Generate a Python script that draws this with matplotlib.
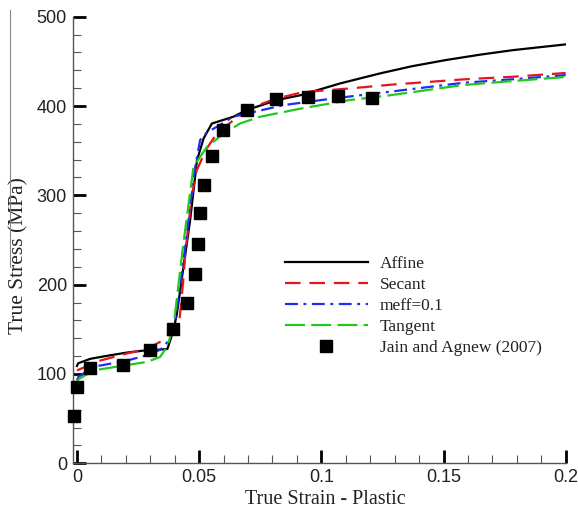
import numpy as np
import matplotlib
matplotlib.use('Agg')
import matplotlib.pyplot as plt
from matplotlib.lines import Line2D
from matplotlib.ticker import MultipleLocator

# model curves (true strain, true stress MPa)
affine_x = [0.0, 0.0005, 0.0055, 0.0137, 0.0205, 0.0286, 0.034, 0.037, 0.0395, 0.0409,
            0.0436, 0.0463, 0.0491, 0.0518, 0.0552, 0.064, 0.0695, 0.0818, 0.0913,
            0.1077, 0.124, 0.137, 0.151, 0.165, 0.1785, 0.2]
affine_y = [109, 112, 117, 121, 124, 126.6, 127.3, 128, 149, 167.6,
            220, 272, 339, 363.6, 380.4, 388, 395.5, 406.7, 412,
            425.3, 436.5, 444.5, 451.5, 457.5, 462.6, 469]

secant_x = [0.0, 0.0095, 0.0205, 0.0286, 0.0354, 0.038, 0.0415, 0.0425, 0.0435, 0.0445,
            0.047, 0.049, 0.053, 0.0574, 0.064, 0.072, 0.0818, 0.0926, 0.1117, 0.129,
            0.158, 0.1785, 0.1975, 0.2]
secant_y = [104, 115, 123, 128, 138, 146, 150, 175, 205, 240,
            300, 328, 352, 370, 384, 399, 408.5, 415.6, 419.7, 424,
            429.8, 432.8, 436.5, 437]

meff_x = [0.0, 0.0006, 0.0067, 0.0205, 0.0313, 0.0354, 0.0375, 0.0402, 0.0422, 0.0443,
          0.0463, 0.0484, 0.0504, 0.053, 0.058, 0.064, 0.0845, 0.105, 0.128, 0.158,
          0.1785, 0.2]
meff_y = [93, 96.7, 108, 115, 123, 129.6, 137.8, 160, 197.5, 242,
          287, 332, 362, 370, 378, 388, 401, 408.5, 416, 426,
          430, 434.6]

tangent_x = [0.0, 0.0006, 0.0067, 0.0205, 0.0286, 0.034, 0.0368, 0.0395, 0.0435, 0.0477,
             0.0531, 0.0599, 0.0668, 0.075, 0.0913, 0.1117, 0.128, 0.158, 0.1785, 0.2]
tangent_y = [91, 94, 104, 110, 113.5, 119, 130, 152.7, 245, 332,
             354, 369, 380.5, 388, 397, 406.7, 412, 423.5, 428, 432.5]

# experiment, Jain and Agnew (2007)
exp_x = [-0.0013, 0.0, 0.0052, 0.0188, 0.0297, 0.0391, 0.0452, 0.0485, 0.0497, 0.0504,
         0.0521, 0.0553, 0.0599, 0.0695, 0.0814, 0.0947, 0.107, 0.1209]
exp_y = [53, 85.5, 107, 109.5, 127, 150, 179.6, 211.7, 246, 279.7,
         312, 344, 373, 395.5, 407.5, 410, 411, 408.5]

xticks = [0, 0.05, 0.1, 0.15, 0.2]
xticklabels = ['0', '0.05', '0.1', '0.15', '0.2']
yticks = [0, 100, 200, 300, 400, 500]

sans = 'Liberation Sans'
serif = 'Liberation Serif'

fig = plt.figure(figsize=(5.78, 5.18), dpi=100)
ax = fig.add_axes([73.3 / 578, 1 - 463.3 / 518, 492.4 / 578, 446.6 / 518])

ax.plot(affine_x, affine_y, color='black', lw=1.6, label='Affine', zorder=3)
ax.plot(secant_x, secant_y, color='#e8141c', lw=1.6, dashes=(7, 4), label='Secant', zorder=3)
ax.plot(meff_x, meff_y, color='#1f2cf5', lw=1.6, dashes=(5.8, 2.5, 1.3, 2.5), label='meff=0.1', zorder=3)
ax.plot(tangent_x, tangent_y, color='#22c81e', lw=1.6, dashes=(9, 2.8), label='Tangent', zorder=3)
ax.plot(exp_x, exp_y, 's', color='black', ms=9, label='Jain and Agnew (2007)',
        zorder=5, clip_on=False)

ax.set_xlim(-0.0015, 0.2)
ax.set_ylim(0, 500)
ax.set_xticks(xticks)
ax.set_xticklabels(xticklabels)
ax.set_yticks(yticks)
ax.xaxis.set_minor_locator(MultipleLocator(0.01))
ax.yaxis.set_minor_locator(MultipleLocator(20))

ax.tick_params(which='major', direction='in', length=9.5, width=2.0, color='black',
               labelsize=13, labelcolor='#222222')
ax.tick_params(axis='y', which='major', pad=4.5)
ax.tick_params(axis='x', which='major', pad=4)
ax.tick_params(which='minor', direction='in', length=5.5, width=0.8, color='#555555')
for lab in ax.get_xticklabels() + ax.get_yticklabels():
    lab.set_fontfamily(sans)

for s in ['top', 'right']:
    ax.spines[s].set_visible(False)
for s in ['left', 'bottom']:
    ax.spines[s].set_color('#555555')
    ax.spines[s].set_linewidth(1.0)

ax.set_xlabel('True Strain - Plastic', fontfamily=serif, fontsize=14.5, color='#222222')
ax.set_ylabel('True Stress (MPa)', fontfamily=serif, fontsize=15.5, color='#222222')
ax.xaxis.set_label_coords(0.511, -0.059)
ax.yaxis.set_label_coords(-0.092, 0.466)

leg = ax.legend(loc='upper left', bbox_to_anchor=(0.415, 0.48), frameon=False,
                prop={'family': serif, 'size': 12.5}, handlelength=4.8,
                handletextpad=0.7, labelspacing=0.28, borderaxespad=0, numpoints=1)
for t in leg.get_texts():
    t.set_color('#222222')

# thin border line left over at the left edge of the picture
fig.add_artist(Line2D([10 / 578, 10 / 578], [1 - 10 / 518, 1 - 267 / 518],
                      color='#888888', lw=0.8))

fig.savefig('out.png', dpi=100)
